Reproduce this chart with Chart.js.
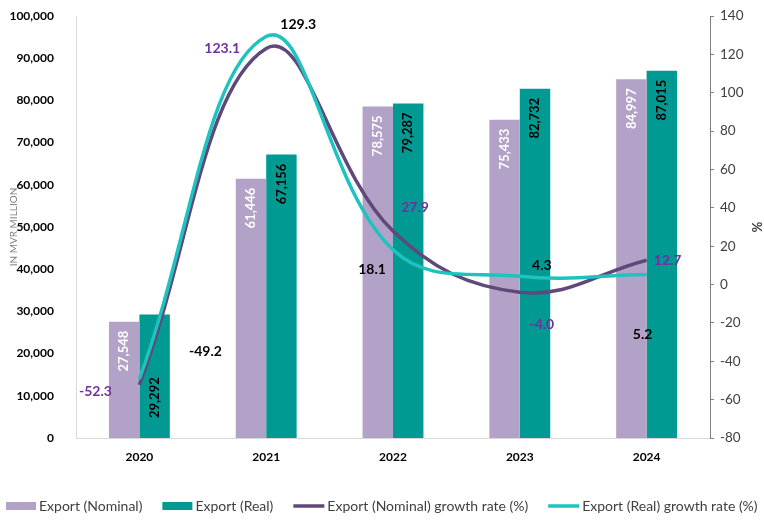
<!DOCTYPE html>
<html>
<head>
<meta charset="utf-8">
<script src="https://cdn.jsdelivr.net/npm/chart.js@4/dist/chart.umd.min.js"></script>
<style>
  html, body { margin: 0; padding: 0; background: #fff; }
  #wrap { width: 764px; height: 521px; position: relative; }
</style>
</head>
<body>
<div id="wrap"><canvas id="exportChart"></canvas></div>
<script>
// Export values (MVR million) and growth rates (%)
var years = ["2020", "2021", "2022", "2023", "2024"];
var exportNominal = [27548, 61446, 78575, 75433, 84997];
var exportReal = [29292, 67156, 79287, 82732, 87015];
var nominalGrowth = [-52.3, 123.1, 27.9, -4.0, 12.7];
var realGrowth = [-49.2, 129.3, 18.1, 4.3, 5.2];

var FONT = "Lato";

// draws the value labels next to bars and line points
var valueLabels = {
    id: 'valueLabels',
    afterDatasetsDraw: function (chart, args, opts) {
        var ctx = chart.ctx;
        opts.sets.forEach(function (cfg, i) {
            var meta = chart.getDatasetMeta(i);
            var values = chart.data.datasets[i].data;
            meta.data.forEach(function (el, j) {
                ctx.save();
                ctx.fillStyle = cfg.color;
                if (cfg.kind === 'bar') {
                    ctx.font = "bold 13px " + FONT;
                    ctx.textBaseline = 'middle';
                    ctx.translate(el.x, cfg.anchors[j] === 'base' ? el.base - 20 : el.y + 9);
                    ctx.rotate(-Math.PI / 2);
                    ctx.textAlign = cfg.anchors[j] === 'base' ? 'left' : 'right';
                    ctx.fillText(values[j].toLocaleString('en-US'), 0, 0);
                } else {
                    ctx.font = "bold 14px " + FONT;
                    ctx.textAlign = 'center';
                    ctx.textBaseline = 'middle';
                    var off = cfg.offsets[j];
                    ctx.fillText(values[j].toFixed(1), el.x + off[0], el.y + off[1]);
                }
                ctx.restore();
            });
        });
    }
};

// one-row legend along the bottom, Excel style
var bottomLegend = {
    id: 'bottomLegend',
    afterDraw: function (chart, args, opts) {
        var ctx = chart.ctx;
        var x = opts.left;
        ctx.save();
        ctx.font = opts.size + "px " + FONT;
        ctx.textBaseline = 'middle';
        ctx.textAlign = 'left';
        chart.data.datasets.forEach(function (ds) {
            if (ds.type === 'line') {
                ctx.strokeStyle = ds.borderColor;
                ctx.lineWidth = 3.5;
                ctx.beginPath();
                ctx.moveTo(x, opts.y);
                ctx.lineTo(x + 31, opts.y);
                ctx.stroke();
                x += 31;
            } else {
                ctx.fillStyle = ds.backgroundColor;
                ctx.fillRect(x, opts.y - 4, 30, 8);
                x += 30;
            }
            x += 3;
            ctx.fillStyle = '#404040';
            ctx.fillText(ds.label, x, opts.y);
            x += ctx.measureText(ds.label).width + 20;
        });
        ctx.restore();
    }
};

new Chart("exportChart", {
    type: 'bar',
    data: {
        labels: years,
        datasets: [
            {
                label: "Export (Nominal)",
                data: exportNominal,
                backgroundColor: "#b3a2c7",
                yAxisID: 'y',
                order: 2,
                categoryPercentage: 0.48,
                barPercentage: 1
            },
            {
                label: "Export (Real)",
                data: exportReal,
                backgroundColor: "#009a93",
                yAxisID: 'y',
                order: 3,
                categoryPercentage: 0.48,
                barPercentage: 1
            },
            {
                type: 'line',
                label: "Export (Nominal) growth rate (%)",
                data: nominalGrowth,
                borderColor: "#5f497a",
                backgroundColor: "#5f497a",
                borderWidth: 3.5,
                pointRadius: 0,
                tension: 0.4,
                yAxisID: 'y2',
                order: 1
            },
            {
                type: 'line',
                label: "Export (Real) growth rate (%)",
                data: realGrowth,
                borderColor: "#1ec3bf",
                backgroundColor: "#1ec3bf",
                borderWidth: 3.5,
                pointRadius: 0,
                tension: 0.4,
                yAxisID: 'y2',
                order: 0
            }
        ]
    },
    options: {
        responsive: true,
        maintainAspectRatio: false,
        animation: false,
        layout: { padding: { left: 0, right: 0, top: 16, bottom: 35 } },
        plugins: {
            tooltip: { enabled: false },
            legend: { display: false },
            bottomLegend: { left: 6, y: 506, size: 14 },
            valueLabels: {
                sets: [
                    { kind: 'bar', color: '#ffffff', anchors: ['top', 'top', 'top', 'top', 'top'] },
                    { kind: 'bar', color: '#000000', anchors: ['base', 'top', 'top', 'top', 'top'] },
                    { kind: 'point', color: '#7030a0', offsets: [[-44, 7], [-44, 0], [22, -24], [22, 32], [21, 0]] },
                    { kind: 'point', color: '#000000', offsets: [[66, -27], [32, -12], [-21, 20], [22, -11], [-4, 60]] }
                ]
            }
        },
        scales: {
            x: {
                grid: { display: false },
                border: { display: true, color: '#d9d9d9', width: 1 },
                ticks: { color: '#000', font: { family: FONT, size: 12, weight: 'bold' }, padding: 4 },
                afterFit: function (s) { s.height = 48; }
            },
            y: {
                position: 'left',
                min: 0,
                max: 100000,
                grid: { display: false },
                border: { display: true, color: '#d9d9d9', width: 1 },
                ticks: {
                    stepSize: 10000,
                    color: '#000',
                    padding: 14,
                    font: { family: FONT, size: 12, weight: 'bold' },
                    callback: function (v) { return v.toLocaleString('en-US'); }
                },
                title: {
                    display: true,
                    text: 'IN MVR MILLION',
                    color: '#7f7f7f',
                    font: { family: FONT, size: 10 },
                    padding: { top: 8, bottom: 0 }
                },
                afterFit: function (s) { s.width = 76; s.paddingTop = 0; s.paddingBottom = 0; }
            },
            y2: {
                position: 'right',
                min: -80,
                max: 140,
                grid: { drawOnChartArea: false, tickLength: 4, color: '#7f7f7f' },
                border: { display: true, color: '#7f7f7f', width: 1 },
                ticks: {
                    stepSize: 20,
                    color: '#404040',
                    padding: 6,
                    font: { family: FONT, size: 13.5 }
                },
                title: {
                    display: true,
                    text: '%',
                    color: '#404040',
                    font: { family: FONT, size: 13, weight: 'bold' },
                    padding: 0
                },
                afterFit: function (s) { s.width = 54; s.paddingTop = 0; s.paddingBottom = 0; }
            }
        }
    },
    plugins: [valueLabels, bottomLegend]
});
</script>
</body>
</html>
